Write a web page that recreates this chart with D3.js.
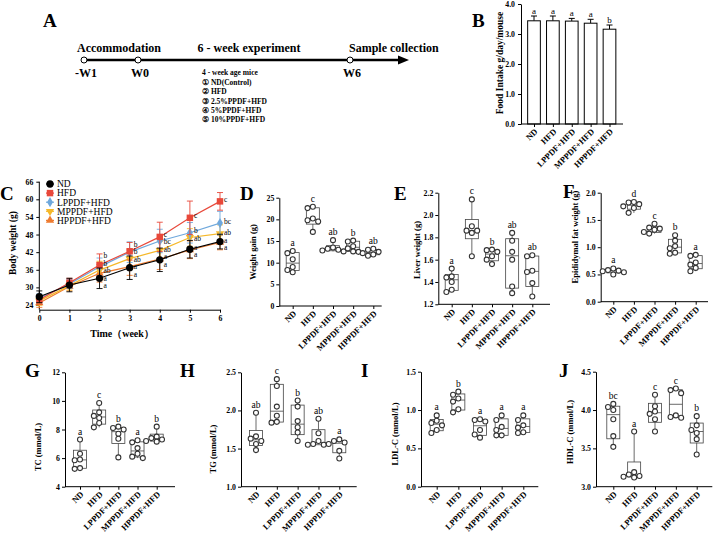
<!DOCTYPE html>
<html>
<head>
<meta charset="utf-8">
<script src="https://cdn.jsdelivr.net/npm/d3@7"></script>
<style>
  body { margin: 0; background: #fff; }
  svg text { font-family: "Liberation Serif", "Times New Roman", serif; }
</style>
</head>
<body>
<div id="plot"></div>
<script>
const SERIF = '"Liberation Serif", "Times New Roman", serif';
const GROUPS = ['ND', 'HFD', 'LPPDF+HFD', 'MPPDF+HFD', 'HPPDF+HFD'];

/* A: timeline */
const stageWeeks = [-1, 0, 6];
const stageLabels = ['-W1', 'W0', 'W6'];
const phaseTitles = ['Accommodation', '6 - week experiment', 'Sample collection'];
const dietList = ['ND(Control)', 'HFD', '2.5%PPDF+HFD', '5%PPDF+HFD', '10%PPDF+HFD'];

/* B: food intake */
const foodMean = [3.44, 3.44, 3.43, 3.36, 3.16];
const foodSd = [0.16, 0.16, 0.09, 0.13, 0.14];
const foodLetters = ['a', 'a', 'a', 'a', 'b'];

/* C: body weight */
const weeks = [0, 1, 2, 3, 4, 5, 6];
const bwND = [26.8, 30.8, 33.1, 36.7, 39.4, 43.0, 45.6];
const bwHFD = [25.8, 31.6, 37.6, 42.3, 47.2, 53.7, 59.3];
const bwL = [26.3, 31.2, 37.0, 42.0, 45.8, 48.6, 51.9];
const bwM = [25.4, 30.6, 35.9, 39.8, 42.6, 47.0, 48.3];
const bwH = [24.7, 30.3, 34.8, 37.1, 39.6, 42.8, 45.3];
const sdND = [2.0, 2.3, 3.5, 4.0, 4.0, 3.0, 2.5];
const sdHFD = [1.5, 1.5, 3.8, 3.0, 5.0, 5.7, 3.0];
const sdL = [1.5, 1.5, 3.0, 3.5, 4.0, 3.5, 4.0];
const sdM = [1.5, 1.5, 3.0, 3.0, 3.0, 3.0, 3.0];
const sdH = [1.5, 1.5, 3.0, 3.0, 3.5, 3.0, 2.5];
const letND = ['', '', 'a', 'a', 'a', 'a', 'a'];
const letHFD = ['', '', 'b', 'b', 'c', 'c', 'c'];
const letL = ['', '', 'b', 'b', 'bc', 'b', 'bc'];
const letM = ['', '', 'ab', 'ab', 'ab', 'ab', 'ab'];
const letH = ['', '', 'a', 'a', 'a', 'a', 'a'];

/* D: weight gain */
const gainND = [7.8, 8.3, 9.0, 10.8, 12.2, 12.7];
const gainHFD = [17.1, 19.5, 19.8, 20.2, 22.6, 22.9];
const gainL = [12.6, 12.8, 13.0, 13.2, 13.5, 15.2];
const gainM = [12.5, 12.6, 13.3, 13.8, 14.9, 15.1];
const gainH = [11.6, 11.9, 12.2, 12.5, 13.0, 13.2];
const gainLetters = ['a', 'c', 'ab', 'b', 'ab'];

/* E: liver weight */
const liverND = [1.31, 1.33, 1.40, 1.44, 1.45, 1.52];
const liverHFD = [1.63, 1.84, 1.86, 1.86, 1.90, 2.14];
const liverL = [1.56, 1.60, 1.63, 1.67, 1.685, 1.69];
const liverM = [1.30, 1.36, 1.60, 1.67, 1.77, 1.84];
const liverH = [1.27, 1.39, 1.49, 1.50, 1.63, 1.64];
const liverLetters = ['a', 'c', 'b', 'ab', 'ab'];

/* F: epididymal fat */
const fatND = [0.50, 0.54, 0.56, 0.57, 0.58, 0.61];
const fatHFD = [1.63, 1.72, 1.75, 1.79, 1.82, 1.83];
const fatL = [1.25, 1.28, 1.32, 1.34, 1.36, 1.43];
const fatM = [0.88, 0.90, 0.98, 1.02, 1.12, 1.22];
const fatH = [0.56, 0.62, 0.68, 0.72, 0.84, 0.86];
const fatLetters = ['a', 'd', 'c', 'b', 'a'];

/* G: TC */
const tcND = [5.25, 5.3, 5.85, 5.9, 6.3, 7.3];
const tcHFD = [8.15, 8.45, 8.8, 8.95, 9.2, 9.85];
const tcL = [6.05, 7.35, 7.7, 8.0, 8.1, 8.2];
const tcM = [6.0, 6.1, 6.3, 6.7, 7.1, 7.25];
const tcH = [7.15, 7.2, 7.3, 7.4, 7.5, 8.2];
const tcLetters = ['a', 'c', 'b', 'a', 'b'];

/* H: TG */
const tgND = [1.48, 1.56, 1.60, 1.63, 1.66, 1.97];
const tgHFD = [1.84, 1.85, 1.93, 2.05, 2.32, 2.41];
const tgL = [1.60, 1.71, 1.78, 1.86, 2.05, 2.13];
const tgM = [1.55, 1.55, 1.56, 1.60, 1.70, 1.89];
const tgH = [1.37, 1.47, 1.56, 1.58, 1.60, 1.62];
const tgLetters = ['ab', 'c', 'b', 'ab', 'a'];

/* I: LDL-C */
const ldlND = [0.70, 0.74, 0.80, 0.83, 0.86, 0.93];
const ldlHFD = [0.97, 1.01, 1.11, 1.15, 1.20, 1.24];
const ldlL = [0.64, 0.68, 0.74, 0.85, 0.87, 0.88];
const ldlM = [0.67, 0.67, 0.74, 0.78, 0.87, 0.93];
const ldlH = [0.70, 0.71, 0.77, 0.80, 0.87, 0.93];
const ldlLetters = ['a', 'b', 'a', 'a', 'a'];

/* J: HDL-C */
const hdlND = [3.52, 3.66, 3.88, 4.00, 4.04, 4.08];
const hdlHFD = [3.12, 3.13, 3.14, 3.16, 3.19, 3.72];
const hdlL = [3.72, 3.88, 3.95, 3.98, 4.05, 4.20];
const hdlM = [3.90, 3.91, 3.93, 4.22, 4.26, 4.28];
const hdlH = [3.42, 3.62, 3.70, 3.74, 3.80, 3.92];
const hdlLetters = ['bc', 'a', 'c', 'c', 'b'];

const svg = d3.select('#plot').append('svg')
  .attr('width', 718).attr('height', 542);

var panelLetter = function(txt, x, y) {
  svg.append('text').attr('x', x).attr('y', y)
    .attr('font-size', 19).attr('font-weight', 'bold').text(txt);
};

var yTitle = function(txt, x, y, size) {
  svg.append('text')
    .attr('transform', `translate(${x},${y}) rotate(-90)`)
    .attr('text-anchor', 'middle').attr('dy', '0.35em')
    .attr('font-size', size || 8.5).attr('font-weight', 'bold').text(txt);
};

var styleAxis = function(sel) {
  sel.attr('font-family', SERIF).attr('font-size', 7.8).attr('font-weight', 'bold');
  sel.selectAll('text').attr('fill', '#000');
  sel.selectAll('line, path').attr('stroke', '#000').attr('stroke-width', 1);
};

/* GraphPad-style quartile: position p*(n+1) */
var quart = function(sorted, p) {
  var pos = p * (sorted.length + 1) - 1;
  var lo = Math.max(0, Math.min(sorted.length - 1, Math.floor(pos)));
  var hi = Math.min(sorted.length - 1, lo + 1);
  var f = Math.max(0, pos - lo);
  return sorted[lo] + f * (sorted[hi] - sorted[lo]);
};

var catAxis = function(x, yBot, axisX, xEnd, size) {
  var xa = svg.append('g').attr('transform', `translate(0,${yBot})`)
    .call(d3.axisBottom(x).tickSize(3).tickFormat(''));
  xa.select('.domain').attr('d', `M${axisX},0H${xEnd}`);
  styleAxis(xa);
  svg.append('g').selectAll('text').data(GROUPS).join('text')
    .attr('transform', function(d) { return `translate(${x(d) + 2},${yBot + 6}) rotate(-45)`; })
    .attr('text-anchor', 'end').attr('dy', '0.35em')
    .attr('font-size', size || 8.5).attr('font-weight', 'bold')
    .text(function(d) { return d; });
};

/* ---------- A ---------- */
(function() {
  var tx = d3.scaleLinear().domain(stageWeeks).range([84, 138, 350]);
  var ly = 60;
  panelLetter('A', 43, 27);
  svg.append('line').attr('x1', tx(-1)).attr('x2', tx(6) + 50)
    .attr('y1', ly).attr('y2', ly).attr('stroke', '#000').attr('stroke-width', 2.5);
  svg.append('path')
    .attr('d', `M${tx(6) + 48},${ly - 4.5}L${tx(6) + 59},${ly}L${tx(6) + 48},${ly + 4.5}Z`)
    .attr('fill', '#000');
  svg.selectAll('.stage').data(stageWeeks).join('circle')
    .attr('cx', function(d) { return tx(d); }).attr('cy', ly).attr('r', 3)
    .attr('fill', '#fff').attr('stroke', '#000').attr('stroke-width', 1);
  svg.selectAll('.stageLab').data(stageLabels).join('text')
    .attr('x', function(d, i) { return tx(stageWeeks[i]) + 2; }).attr('y', 77)
    .attr('text-anchor', 'middle').attr('font-size', 12).attr('font-weight', 'bold')
    .text(function(d) { return d; });
  var anchors = [
    { x: tx(-1) - 7, a: 'start' },
    { x: (tx(0) + tx(6)) / 2 + 5, a: 'middle' },
    { x: tx(6) - 1, a: 'start' }
  ];
  svg.selectAll('.phase').data(phaseTitles).join('text')
    .attr('x', function(d, i) { return anchors[i].x; }).attr('y', 52)
    .attr('text-anchor', function(d, i) { return anchors[i].a; })
    .attr('font-size', 12).attr('font-weight', 'bold')
    .text(function(d) { return d; });
  svg.append('text').attr('x', 202).attr('y', 75)
    .attr('font-size', 7.5).attr('font-weight', 'bold').text('4 - week age mice');
  svg.selectAll('.diet').data(dietList).join('text')
    .attr('x', 202).attr('y', function(d, i) { return 85 + i * 9.3; })
    .attr('font-size', 7.5).attr('font-weight', 'bold')
    .text(function(d, i) { return String.fromCharCode(0x2460 + i) + ' ' + d; });
})();

/* ---------- B ---------- */
(function() {
  var axisX = 521, xEnd = 623, yBot = 124, yTop = 4;
  var y = d3.scaleLinear().domain([0, 4]).range([yBot, yTop]);
  var x = d3.scalePoint().domain(GROUPS).range([534, 609.5]);
  var bw = 12.7;
  panelLetter('B', 472, 27);
  yTitle('Food Intake g/day/mouse', 500, 63, 9.5);
  var g = svg.append('g');
  g.selectAll('.err').data(GROUPS).join('path')
    .attr('d', function(d, i) {
      var t = y(foodMean[i] + foodSd[i]);
      return `M${x(d)},${y(foodMean[i])}V${t}M${x(d) - 3},${t}H${x(d) + 3}`;
    })
    .attr('stroke', '#000').attr('stroke-width', 1).attr('fill', 'none');
  g.selectAll('rect').data(GROUPS).join('rect')
    .attr('x', function(d) { return x(d) - bw / 2; })
    .attr('y', function(d, i) { return y(foodMean[i]); })
    .attr('width', bw)
    .attr('height', function(d, i) { return yBot - y(foodMean[i]); })
    .attr('fill', '#fff').attr('stroke', '#000').attr('stroke-width', 1);
  g.selectAll('.let').data(foodLetters).join('text')
    .attr('x', function(d, i) { return x(GROUPS[i]); })
    .attr('y', function(d, i) { return y(foodMean[i] + foodSd[i]) - 2; })
    .attr('text-anchor', 'middle').attr('font-size', 9).attr('fill', '#000')
    .text(function(d) { return d; });
  var ya = svg.append('g').attr('transform', `translate(${axisX},0)`)
    .call(d3.axisLeft(y).tickValues([0, 1, 2, 3, 4]).tickSize(3).tickSizeOuter(0));
  styleAxis(ya);
  catAxis(x, yBot, axisX, xEnd, 8.5);
})();

/* ---------- C ---------- */
(function() {
  var series = [
    { name: 'ND', m: bwND, sd: sdND, let: letND, color: '#000000', sym: d3.symbolCircle, size: 42, rot: 0 },
    { name: 'HFD', m: bwHFD, sd: sdHFD, let: letHFD, color: '#e8483a', sym: d3.symbolSquare, size: 42, rot: 0 },
    { name: 'LPPDF+HFD', m: bwL, sd: sdL, let: letL, color: '#6fa8dc', sym: d3.symbolDiamond, size: 30, rot: 0 },
    { name: 'MPPDF+HFD', m: bwM, sd: sdM, let: letM, color: '#f5b82a', sym: d3.symbolTriangle, size: 30, rot: 180 },
    { name: 'HPPDF+HFD', m: bwH, sd: sdH, let: letH, color: '#ee7b30', sym: d3.symbolTriangle, size: 30, rot: 0 }
  ];
  var axisX = 39.3;
  var x = d3.scaleLinear().domain([0, 6]).range([axisX, 220]);
  var y = d3.scaleLinear().domain([24, 66]).range([305, 181.7]);
  var yBot = y(22.4);
  panelLetter('C', 0, 200);
  yTitle('Body weight (g)', 13, 243, 9.5);

  var ya = svg.append('g').attr('transform', `translate(${axisX},0)`)
    .call(d3.axisLeft(y).tickValues(d3.range(24, 67, 6)).tickSize(3).tickSizeOuter(0));
  ya.select('.domain').attr('d', `M0,${yBot}V${y(66)}`);
  styleAxis(ya);
  var xa = svg.append('g').attr('transform', `translate(0,${yBot})`)
    .call(d3.axisBottom(x).tickValues(weeks).tickSize(3).tickSizeOuter(0).tickFormat(d3.format('d')));
  styleAxis(xa);
  svg.append('text').attr('x', 122).attr('y', 337).attr('text-anchor', 'middle')
    .attr('font-size', 10).attr('font-weight', 'bold').text('Time\uFF08week\uFF09');

  var line = d3.line().x(function(d, i) { return x(weeks[i]); }).y(function(d) { return y(d); });
  series.slice().reverse().forEach(function(s) {
    var g = svg.append('g');
    g.selectAll('path.err').data(s.m).join('path').attr('class', 'err')
      .attr('d', function(d, i) {
        var cx = x(weeks[i]), t = y(d + s.sd[i]), b = y(d - s.sd[i]);
        return `M${cx},${t}V${b}M${cx - 3},${t}H${cx + 3}M${cx - 3},${b}H${cx + 3}`;
      })
      .attr('stroke', s.color).attr('stroke-width', 1).attr('fill', 'none').attr('opacity', 0.9);
    g.append('path').datum(s.m).attr('d', line)
      .attr('fill', 'none').attr('stroke', s.color).attr('stroke-width', 1.2);
    g.selectAll('path.mk').data(s.m).join('path').attr('class', 'mk')
      .attr('d', d3.symbol().type(s.sym).size(s.size))
      .attr('transform', function(d, i) { return `translate(${x(weeks[i])},${y(d)}) rotate(${s.rot})`; })
      .attr('fill', s.color);
  });

  /* significance letters, spread so they do not overlap */
  weeks.forEach(function(w, i) {
    var items = series.filter(function(s) { return s.let[i]; })
      .map(function(s) { return { t: s.let[i], y0: y(s.m[i]) }; })
      .sort(function(a, b) { return a.y0 - b.y0; });
    if (!items.length) return;
    var prev = -Infinity;
    items.forEach(function(it) { it.y = Math.max(it.y0, prev + 7.5); prev = it.y; });
    var shift = d3.mean(items, function(it) { return it.y - it.y0; });
    svg.append('g').selectAll('text').data(items).join('text')
      .attr('x', x(w) + 4).attr('y', function(it) { return it.y - shift; })
      .attr('dy', '0.32em').attr('font-size', 7.5).attr('fill', '#000')
      .text(function(it) { return it.t; });
  });

  /* legend */
  var lg = svg.append('g');
  series.forEach(function(s, i) {
    var ly = 184 + i * 9.1;
    lg.append('line').attr('x1', 46).attr('x2', 54).attr('y1', ly).attr('y2', ly)
      .attr('stroke', s.color).attr('stroke-width', 1.2);
    lg.append('path').attr('d', d3.symbol().type(s.sym).size(s.size))
      .attr('transform', `translate(50,${ly}) rotate(${s.rot})`).attr('fill', s.color);
    lg.append('text').attr('x', 57).attr('y', ly).attr('dy', '0.35em')
      .attr('font-size', 9.5).attr('fill', '#000').text(s.name);
  });
})();

/* ---------- box panels D-J ---------- */
var spread = function(vals, y, r) {
  var placed = [];
  return vals.map(function(v) {
    var py = y(v);
    var cands = [0, -1, 1, -2, 2, -3, 3].map(function(k) { return k * (2 * r + 0.3); });
    var off = cands.find(function(c) {
      return placed.every(function(p) { return Math.hypot(p.x - c, p.y - py) >= 2 * r; });
    });
    if (off === undefined) off = 0;
    placed.push({ x: off, y: py });
    return { v: v, dx: off, y: py };
  });
};

var boxPanel = function(o) {
  var y = d3.scaleLinear().domain(o.domain).range([o.yBot, o.yTop]);
  var x = d3.scalePoint().domain(GROUPS).range([o.axisX + o.padL, o.xEnd - o.padR]);
  var bw = 13, r = 2.5;
  panelLetter(o.letter, o.lx, o.ly);
  yTitle(o.title, o.tx, o.ty, 8.5);
  var ya = svg.append('g').attr('transform', `translate(${o.axisX},0)`)
    .call(d3.axisLeft(y).tickValues(o.ticks).tickFormat(d3.format(o.fmt)).tickSize(3).tickSizeOuter(0).tickPadding(2));
  styleAxis(ya);
  catAxis(x, o.yBot, o.axisX, o.xEnd, 8.5);

  o.sets.forEach(function(vals, i) {
    var s = vals.slice().sort(d3.ascending);
    var cx = x(GROUPS[i]);
    var q1 = quart(s, 0.25), med = quart(s, 0.5), q3 = quart(s, 0.75);
    var g = svg.append('g');
    g.append('line').attr('x1', cx).attr('x2', cx)
      .attr('y1', y(s[0])).attr('y2', y(s[s.length - 1]))
      .attr('stroke', '#444').attr('stroke-width', 0.8);
    g.append('rect').attr('x', cx - bw / 2).attr('y', y(q3))
      .attr('width', bw).attr('height', y(q1) - y(q3))
      .attr('fill', '#fff').attr('stroke', '#444').attr('stroke-width', 0.8);
    g.append('line').attr('x1', cx - bw / 2).attr('x2', cx + bw / 2)
      .attr('y1', y(med)).attr('y2', y(med))
      .attr('stroke', '#444').attr('stroke-width', 0.8);
    g.selectAll('circle').data(spread(s.slice().reverse(), y, r)).join('circle')
      .attr('cx', function(d) { return cx + d.dx; }).attr('cy', function(d) { return d.y; })
      .attr('r', r).attr('fill', '#fff').attr('stroke', '#333').attr('stroke-width', 1.1);
    g.append('text').attr('x', cx).attr('y', y(s[s.length - 1]) - 5)
      .attr('text-anchor', 'middle').attr('font-size', 9.5).attr('fill', '#000').text(o.letters[i]);
  });
};

boxPanel({ letter: 'D', lx: 240, ly: 200, title: 'Weight gain (g)', tx: 253, ty: 252,
  axisX: 279.3, xEnd: 381.7, yBot: 306, yTop: 197.7, padL: 13.4, padR: 8.4,
  domain: [0, 25], ticks: [0, 5, 10, 15, 20, 25], fmt: 'd',
  sets: [gainND, gainHFD, gainL, gainM, gainH], letters: gainLetters });
boxPanel({ letter: 'E', lx: 394, ly: 200, title: 'Liver weight (g)', tx: 417, ty: 250,
  axisX: 438.3, xEnd: 550, yBot: 304.3, yTop: 192.7, padL: 13.4, padR: 17.7,
  domain: [1.2, 2.2], ticks: [1.2, 1.4, 1.6, 1.8, 2.0, 2.2], fmt: '.1f',
  sets: [liverND, liverHFD, liverL, liverM, liverH], letters: liverLetters });
boxPanel({ letter: 'F', lx: 563, ly: 198, title: 'Epididymal fat weight (g)', tx: 575, ty: 237,
  axisX: 600.7, xEnd: 708, yBot: 301.7, yTop: 192.7, padL: 12.6, padR: 12.3,
  domain: [0, 2], ticks: [0, 0.5, 1.0, 1.5, 2.0], fmt: '.1f',
  sets: [fatND, fatHFD, fatL, fatM, fatH], letters: fatLetters });
boxPanel({ letter: 'G', lx: 25, ly: 377, title: 'TC (mmol/L)', tx: 38, ty: 447,
  axisX: 65, xEnd: 175, yBot: 486.7, yTop: 372.3, padL: 15, padR: 18.3,
  domain: [4, 12], ticks: [4, 6, 8, 10, 12], fmt: 'd',
  sets: [tcND, tcHFD, tcL, tcM, tcH], letters: tcLetters });
boxPanel({ letter: 'H', lx: 180, ly: 377, title: 'TG (mmol/L)', tx: 213, ty: 449,
  axisX: 241, xEnd: 356.7, yBot: 486.7, yTop: 372.3, padL: 15, padR: 17.4,
  domain: [1, 2.5], ticks: [1.0, 1.5, 2.0, 2.5], fmt: '.1f',
  sets: [tgND, tgHFD, tgL, tgM, tgH], letters: tgLetters });
boxPanel({ letter: 'I', lx: 361, ly: 377, title: 'LDL-C (mmol/L)', tx: 395, ty: 434,
  axisX: 421, xEnd: 538.3, yBot: 486.7, yTop: 371.7, padL: 15.7, padR: 15,
  domain: [0, 1.5], ticks: [0, 0.5, 1.0, 1.5], fmt: '.1f',
  sets: [ldlND, ldlHFD, ldlL, ldlM, ldlH], letters: ldlLetters });
boxPanel({ letter: 'J', lx: 559, ly: 377, title: 'HDL-C (mmol/L)', tx: 570, ty: 432,
  axisX: 596, xEnd: 712.3, yBot: 486.7, yTop: 371.7, padL: 17.3, padR: 15.6,
  domain: [3, 4.5], ticks: [3.0, 3.5, 4.0, 4.5], fmt: '.1f',
  sets: [hdlND, hdlHFD, hdlL, hdlM, hdlH], letters: hdlLetters });
</script>
</body>
</html>
